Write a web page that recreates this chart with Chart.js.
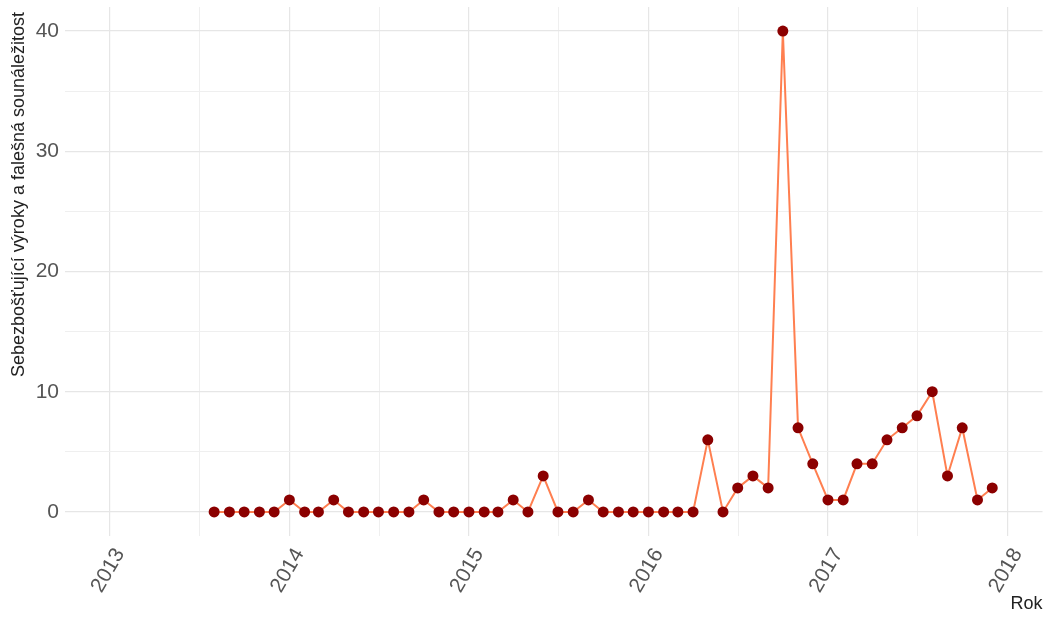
<!DOCTYPE html>
<html>
<head>
<meta charset="utf-8">
<script src="https://cdn.jsdelivr.net/npm/chart.js@4/dist/chart.umd.min.js"></script>
<style>
  body { margin: 0; background: #fff; }
  #contenedor { width: 1048px; height: 621px; }
</style>
</head>
<body>
<div id="contenedor"><canvas id="lineChart"></canvas></div>
<script>
// meses (primer día del mes) y número de výroky por mes
var meses = [
  "2013-08", "2013-09", "2013-10", "2013-11", "2013-12",
  "2014-01", "2014-02", "2014-03", "2014-04", "2014-05", "2014-06",
  "2014-07", "2014-08", "2014-09", "2014-10", "2014-11", "2014-12",
  "2015-01", "2015-02", "2015-03", "2015-04", "2015-05", "2015-06",
  "2015-07", "2015-08", "2015-09", "2015-10", "2015-11", "2015-12",
  "2016-01", "2016-02", "2016-03", "2016-04", "2016-05", "2016-06",
  "2016-07", "2016-08", "2016-09", "2016-10", "2016-11", "2016-12",
  "2017-01", "2017-02", "2017-03", "2017-04", "2017-05", "2017-06",
  "2017-07", "2017-08", "2017-09", "2017-10", "2017-11", "2017-12"
];
var valores = [
  0, 0, 0, 0, 0,
  1, 0, 0, 1, 0, 0, 0, 0, 0, 1, 0, 0,
  0, 0, 0, 1, 0, 3, 0, 0, 1, 0, 0, 0,
  0, 0, 0, 0, 6, 0, 2, 3, 2, 40, 7, 4,
  1, 1, 4, 4, 6, 7, 8, 10, 3, 7, 1, 2
];
var anios = [2013, 2014, 2015, 2016, 2017, 2018];
var ticksY = [0, 10, 20, 30, 40];

var tituloY = "Sebezbošťující výroky a falešná sounáležitost ";
var tituloX = "Rok";

// paso "YYYY-MM" a año decimal para el eje lineal
function anioDecimal(mes) {
  var a = parseInt(mes.substring(0, 4));
  var m = parseInt(mes.substring(5, 7)) - 1;
  var ini = Date.UTC(a, 0, 1);
  var fin = Date.UTC(a + 1, 0, 1);
  return a + (Date.UTC(a, m, 1) - ini) / (fin - ini);
}

var puntos = [];
for (var i = 0; i < meses.length; i++) {
  puntos.push({ x: anioDecimal(meses[i]), y: valores[i] });
}

var fuente = 'Liberation Sans, Arial, sans-serif';

var ctxL = document.getElementById("lineChart").getContext('2d');
var myLineChart = new Chart(ctxL, {
  type: 'line',
  data: {
    datasets: [{
      data: puntos,
      borderColor: '#FF7F50',
      borderWidth: 2,
      pointBackgroundColor: '#8B0000',
      pointBorderColor: '#8B0000',
      pointBorderWidth: 0,
      pointRadius: 5.5,
      tension: 0,
      fill: false
    }]
  },
  options: {
    responsive: true,
    maintainAspectRatio: false,
    animation: false,
    layout: { padding: { left: 2, top: 7, right: 1, bottom: 0 } },
    plugins: { legend: { display: false }, tooltip: { enabled: false } },
    scales: {
      x: {
        type: 'linear',
        min: 2012.75,
        max: 2018.195,
        border: { display: false },
        grid: {
          drawTicks: false,
          color: function (c) { return Number.isInteger(c.tick.value) ? '#e6e6e6' : '#efefef'; },
          lineWidth: function (c) { return Number.isInteger(c.tick.value) ? 1.2 : 1; }
        },
        ticks: {
          stepSize: 0.5,
          includeBounds: false,
          autoSkip: false,
          maxRotation: 60,
          minRotation: 60,
          padding: 8,
          labelOffset: 10,
          color: '#555',
          font: { family: fuente, size: 21 },
          callback: function (v) { return anios.indexOf(v) >= 0 ? String(v) : ''; }
        },
        title: {
          display: true,
          text: tituloX,
          align: 'end',
          color: '#222',
          padding: { top: 0, bottom: 6 },
          font: { family: fuente, size: 18 }
        },
        afterFit: function (s) {
          s.height = 85;
          s.paddingLeft = 0;
          s.paddingRight = 0;
        }
      },
      y: {
        min: -2,
        max: 42,
        border: { display: false },
        grid: {
          drawTicks: false,
          color: function (c) { return c.tick.value % 10 === 0 ? '#e6e6e6' : '#efefef'; },
          lineWidth: function (c) { return c.tick.value % 10 === 0 ? 1.2 : 1; }
        },
        ticks: {
          stepSize: 5,
          includeBounds: false,
          padding: 6,
          color: '#555',
          font: { family: fuente, size: 21 },
          callback: function (v) { return ticksY.indexOf(v) >= 0 ? String(v) : ''; }
        },
        title: {
          display: true,
          text: tituloY,
          align: 'end',
          color: '#222',
          padding: { top: 6, bottom: 0 },
          font: { family: fuente, size: 18 }
        },
        afterFit: function (s) {
          s.width = 63;
          // sin margen extra arriba y abajo
          s.paddingTop = 0;
          s.paddingBottom = 0;
        }
      }
    }
  }
});
</script>
</body>
</html>
